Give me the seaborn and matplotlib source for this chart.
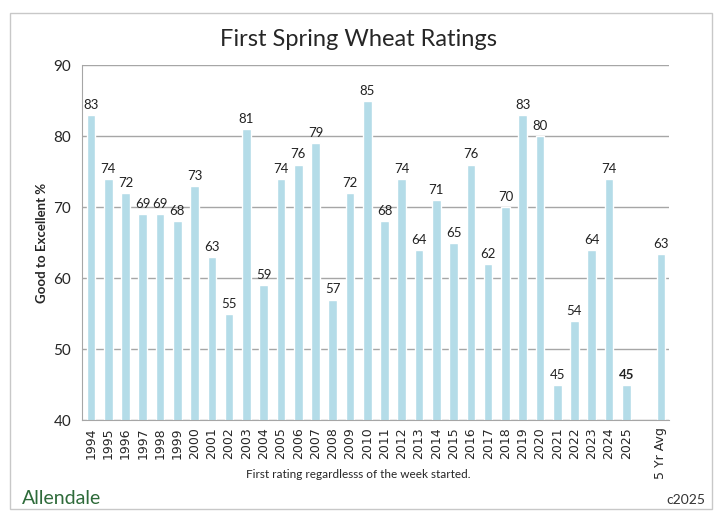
import matplotlib
matplotlib.use("Agg")
import matplotlib.pyplot as plt
import seaborn as sns
import pandas as pd
from matplotlib.patches import Rectangle

years = [str(y) for y in range(1994, 2026)]
ratings = [83, 74, 72, 69, 69, 68, 73, 63, 55, 81, 59, 74, 76, 79, 57, 72,
           85, 68, 74, 64, 71, 65, 76, 62, 70, 83, 80, 45, 54, 64, 74, 45]
avg_label = "5 Yr Avg"
avg_value = 63.4

categories = years + [" ", avg_label]
values = ratings + [float("nan"), avg_value]
labels = [str(v) for v in ratings] + ["", "63"]

df = pd.DataFrame({"cat": categories, "val": values})

sns.set_style("white")
plt.rcParams["font.family"] = ["Lato", "DejaVu Sans"]

fig = plt.figure(figsize=(7.16, 5.22), dpi=100)
ax = fig.add_axes([0.115, 0.195, 0.82, 0.68])

sns.barplot(data=df, x="cat", y="val", order=categories, color="#b4dce8",
            width=0.5, saturation=1, ax=ax)

ax.set_ylim(40, 90)
ax.set_yticks(range(40, 91, 10))
ax.yaxis.grid(True, color="#a6a6a6", linewidth=1)
ax.set_axisbelow(True)
for s in ["top", "right"]:
    ax.spines[s].set_visible(False)
ax.spines["left"].set_color("#a6a6a6")
ax.spines["bottom"].set_color("#a6a6a6")
ax.set_xlim(-0.5, len(categories) - 0.5)

# ticks between categories
ax.set_xticks(range(len(categories)))
ax.set_xticklabels(categories, rotation=90, fontsize=9, family=["DejaVu Sans"])
ax.tick_params(axis="x", length=0, pad=5)
ax.set_xticks([i - 0.5 for i in range(len(categories) + 1)], minor=True)
ax.tick_params(axis="x", which="minor", length=4, color="#a6a6a6")
ax.tick_params(axis="y", labelsize=11, length=0, pad=8)

ax.set_xlabel("")
ax.set_ylabel("Good to Excellent %", fontsize=9.5, fontweight="bold")
fig.text(0.5, 0.085, "First rating regardlesss of the week started.", fontsize=8.5,
         ha="center")

for i, (v, lab) in enumerate(zip(values, labels)):
    if lab:
        ax.annotate(lab, (i, v), xytext=(0, 3), textcoords="offset points",
                    ha="center", va="bottom", fontsize=9.5, color="#222222",
                    fontweight="bold" if categories[i] == "2025" else "normal")

fig.suptitle("First Spring Wheat Ratings", y=0.945, fontsize=17)

fig.text(0.03, 0.035, "Allendale", fontsize=14, color="#2e6b3a")
fig.text(0.985, 0.035, "c2025", fontsize=10, ha="right", color="#333333")

fig.patches.append(Rectangle((0.014, 0.025), 0.98, 0.95, transform=fig.transFigure,
                             fill=False, edgecolor="#c8c8c8", linewidth=1))

fig.savefig("out.png", dpi=100, facecolor="white")
